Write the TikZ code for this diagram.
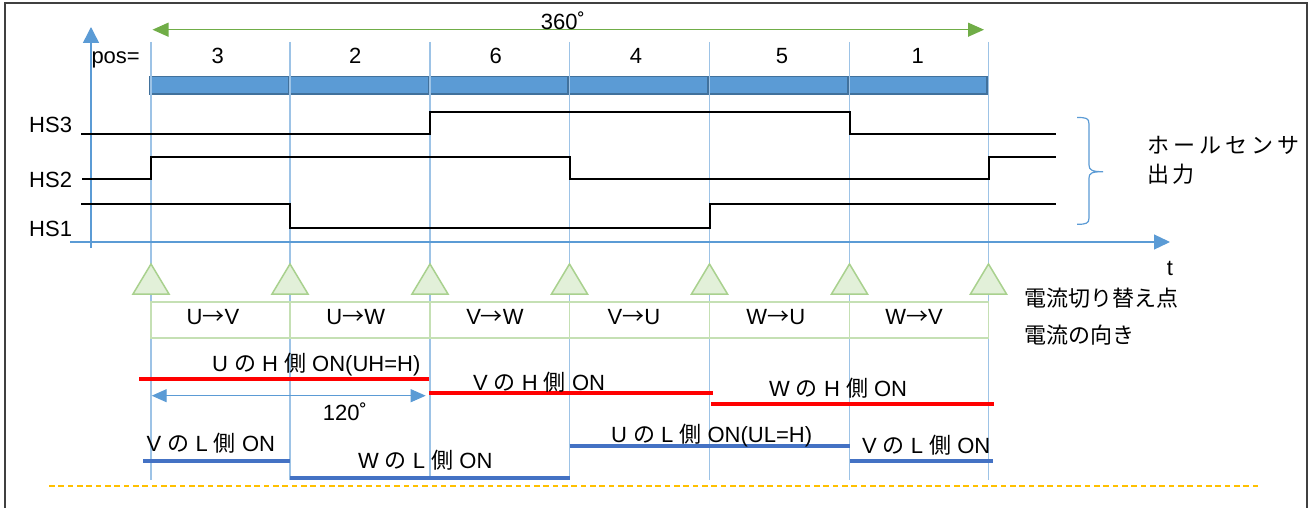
\documentclass[tikz,border=0pt]{standalone}
\usepackage{fontspec}
\setmainfont{Liberation Sans}
\newfontfamily\cjk{Noto Sans CJK JP}
\usetikzlibrary{arrows.meta}
\definecolor{guide}{RGB}{157,195,230}
\definecolor{axisblue}{RGB}{91,155,213}
\definecolor{barfill}{RGB}{91,155,213}
\definecolor{bardraw}{RGB}{65,113,156}
\definecolor{trifill}{RGB}{226,240,217}
\definecolor{tridraw}{RGB}{169,209,142}
\definecolor{boxdraw}{RGB}{197,224,180}
\definecolor{arrowgreen}{RGB}{112,173,71}
\definecolor{hred}{RGB}{255,0,0}
\definecolor{lblue}{RGB}{68,114,196}
\definecolor{orangedash}{RGB}{255,192,0}
\definecolor{framegray}{RGB}{64,64,64}
\newcommand{\J}[1]{{\cjk #1}}
\begin{document}
\begin{tikzpicture}[x=1pt,y=-1pt,
  font=\fontsize{22}{26}\selectfont,
  txt/.style={inner sep=0pt, outer sep=0pt},
  guideline/.style={guide, line width=1.2pt},
  axisline/.style={axisblue, line width=1.5pt},
  wave/.style={black, line width=2pt},
  hline/.style={hred, line width=4pt},
  lline/.style={lblue, line width=4pt},
  barcell/.style={fill=barfill, draw=bardraw, line width=1.5pt},
  tri/.style={fill=trifill, draw=tridraw, line width=1.5pt, line join=miter},
  dirbox/.style={draw=boxdraw, line width=1.8pt},
  dashseg/.style={fill=orangedash, draw=none}]
\useasboundingbox (0,0) rectangle (1313,508);
\fill[white] (0,0) rectangle (1313,508);
% frame
\draw[framegray, line width=1.6pt] (5,510) -- (5,3) -- (1307,3) -- (1307,510);

% guide positions
\foreach \i/\x in {0/151,1/290,2/430,3/569.5,4/709.5,5/849.5,6/988.5}{
  \coordinate (gt\i) at (\x,42);
  \coordinate (gb\i) at (\x,480);
}

% position bar
\foreach \i/\j in {0/1,1/2,2/3,3/4,4/5,5/6}{
  \draw[barcell] ([xshift=-1.5pt]gt\i |- 0,76.5) rectangle ([xshift=-1.5pt]gt\j |- 0,94);
}

% guides
\foreach \i in {0,...,6}{ \draw[guideline] (gt\i) -- (gb\i); }

% triangles (switching points)
\foreach \i in {0,...,6}{
  \draw[tri] (gt\i |- 0,264) -- ([xshift=18pt]gt\i |- 0,294) -- ([xshift=-18pt]gt\i |- 0,294) -- cycle;
}
% direction boxes
\foreach \i/\j in {0/1,1/2,2/3,3/4,4/5,5/6}{
  \draw[dirbox] (gt\i |- 0,302.3) rectangle (gt\j |- 0,338.3);
}

% axes
\coordinate (yb) at (91,248);
\coordinate (yt) at (91,27);
\draw[axisline, -{Triangle[length=16pt,width=16pt]}] (yb) -- (yt);
\coordinate (xl) at (70,242);
\coordinate (xr) at (1170,242);
\draw[axisline, line width=1.2pt, -{Triangle[length=16pt,width=15pt]}] (xl) -- (xr);
\node[txt, anchor=center] (tlab) at (1170,268) {t};

% 360 arrow
\coordinate (al) at (152.5,29.7);
\coordinate (ar) at (984,29.7);
\draw[arrowgreen, line width=1.2pt, {Triangle[length=16pt,width=14pt]}-{Triangle[length=16pt,width=14pt]}] (al) -- (ar);
\node[txt, anchor=base] (deg360) at (563,30) {360˚};

% pos labels
\node[txt, anchor=base west] (pos) at (91.5,63.5) {pos=};
\foreach \x/\t/\n in {217.7/3/p3,355.3/2/p2,495.7/6/p6,636/4/p4,782/5/p5,917.7/1/p1}{
  \node[txt, anchor=base] (\n) at (\x,63.5) {\t};
}

% waveforms
\draw[wave] (81,133.7) -- (430,133.7) -- (430,111.7) -- (849.5,111.7) -- (849.5,133.7) -- (1056,133.7);
\draw[wave] (82,179) -- (151,179) -- (151,156.7) -- (569.5,156.7) -- (569.5,179) -- (988.5,179) -- (988.5,156.7) -- (1056,156.7);
\draw[wave] (81,204) -- (290,204) -- (290,227.7) -- (709.5,227.7) -- (709.5,204) -- (1056,204);
\node[txt, anchor=base east] (hs3) at (72,132.5) {HS3};
\node[txt, anchor=base east] (hs2) at (72,187.3) {HS2};
\node[txt, anchor=base east] (hs1) at (72,236) {HS1};

% brace
\draw[axisblue, line width=1.2pt] (1077,117.5) .. controls (1086,117.5) and (1089,118) .. (1089,124) -- (1089,165)
  .. controls (1089,170) and (1092,171.7) .. (1103,171.7)
  .. controls (1092,171.7) and (1089,173) .. (1089,178) -- (1089,218)
  .. controls (1089,223.5) and (1086,224.3) .. (1077,224.3);
\node[txt, anchor=west] (hall1) at (1147,145.7) {\J{ホ\hspace{4pt}ー\hspace{4pt}ル\hspace{4pt}セ\hspace{4pt}ン\hspace{4pt}サ}};
\node[txt, anchor=west] (hall2) at (1147,174) {\J{出\hspace{3pt}力}};

% legends
\node[txt, anchor=west] (sw) at (1024,298) {\J{電流切り替え点}};
\node[txt, anchor=west] (dir) at (1024,335) {\J{電流の向き}};

% direction labels
\foreach \x/\a/\b/\n in {213/U/V/d1,355.8/U/W/d2,495/V/W/d3,634/V/U/d4,775.8/W/U/d5,914/W/V/d6}{
  \node[txt, anchor=base] (\n) at (\x,324) {\a\J{→}\b};
}

% H side lines
\draw[hline] (139,379) -- (429,379);
\draw[hline] (429,392.7) -- (712.7,392.7);
\draw[hline] (711,404.3) -- (994,404.3);
\node[txt, anchor=base west] (uh) at (212,371.5) {U \J{の} H \J{側} ON(UH=H)};
\node[txt, anchor=base west] (vh) at (473,390) {V \J{の} H \J{側} ON};
\node[txt, anchor=base west] (wh) at (769,396.7) {W \J{の} H \J{側} ON};

% 120 arrow
\coordinate (bl) at (151.7,395.7);
\coordinate (br) at (425.7,395.7);
\draw[axisblue, line width=1pt, {Triangle[length=15pt,width=13pt]}-{Triangle[length=15pt,width=13pt]}] (bl) -- (br);
\node[txt, anchor=base] (deg120) at (345,420) {120˚};

% L side lines
\draw[lline] (143,461.3) -- (290,461.3);
\draw[lline] (290,477.7) -- (569.5,477.7);
\draw[lline] (569.5,445.7) -- (849.7,445.7);
\draw[lline] (849.7,461.3) -- (993,461.3);
\node[txt, anchor=base west] (vl1) at (146.7,451) {V \J{の} L \J{側} ON};
\node[txt, anchor=base west] (wl) at (358,468.3) {W \J{の} L \J{側} ON};
\node[txt, anchor=base west] (ul) at (611,442.7) {U \J{の} L \J{側} ON(UL=H)};
\node[txt, anchor=base west] (vl2) at (862,453.3) {V \J{の} L \J{側} ON};

% dashed line (drawn as short filled segments)
\foreach \k in {0,...,129}{
  \fill[dashseg] (49+\k*9.33,484.9) rectangle (54.6+\k*9.33,486.5);
}
\end{tikzpicture}
\end{document}
